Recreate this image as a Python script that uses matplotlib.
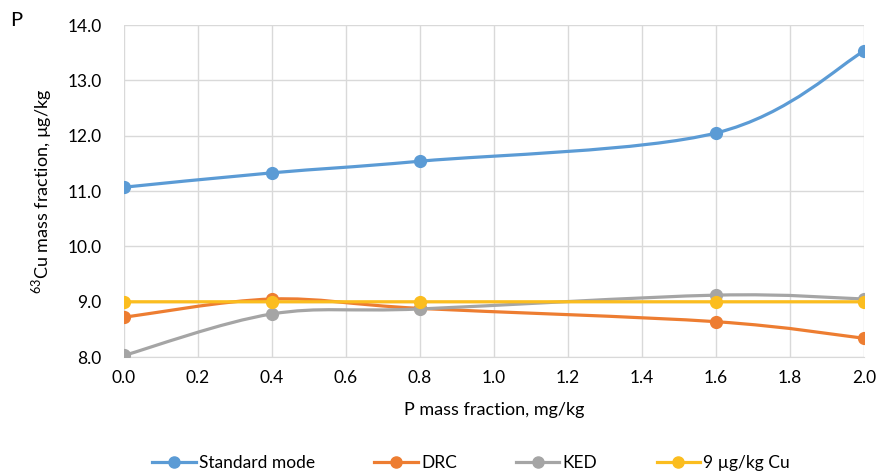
import matplotlib
matplotlib.use("Agg")
import matplotlib.pyplot as plt
from matplotlib.path import Path
from matplotlib.patches import PathPatch
from matplotlib.lines import Line2D
import numpy as np

plt.rcParams['font.family'] = ['Lato', 'DejaVu Sans']
plt.rcParams['mathtext.fontset'] = 'custom'
plt.rcParams['mathtext.rm'] = 'Lato'

x_vals = [0.0, 0.4, 0.8, 1.6, 2.0]
standard = [11.07, 11.33, 11.54, 12.05, 13.53]
drc = [8.72, 9.05, 8.88, 8.64, 8.34]
ked = [8.03, 8.78, 8.87, 9.12, 9.05]
ref9 = [9.0, 9.0, 9.0, 9.0, 9.0]
labels = ["Standard mode", "DRC", "KED", "9 µg/kg Cu"]
colors = ["#5b9bd5", "#ed7d31", "#a5a5a5", "#fbbd1f"]
x_ticks = [0.0, 0.2, 0.4, 0.6, 0.8, 1.0, 1.2, 1.4, 1.6, 1.8, 2.0]
y_ticks = [8.0, 9.0, 10.0, 11.0, 12.0, 13.0, 14.0]


def smooth_path(xs, ys):
    pts = np.column_stack([xs, ys])
    n = len(pts)
    verts = [pts[0]]
    codes = [Path.MOVETO]
    for i in range(n - 1):
        p0 = pts[i - 1] if i > 0 else pts[i]
        p1 = pts[i]
        p2 = pts[i + 1]
        p3 = pts[i + 2] if i + 2 < n else pts[i + 1]
        c1 = p1 + (p2 - p0) / 6.0
        c2 = p2 - (p3 - p1) / 6.0
        verts += [c1, c2, p2]
        codes += [Path.CURVE4] * 3
    return Path(verts, codes)


fig = plt.figure(figsize=(8.79, 4.73), dpi=100)
ax = fig.add_axes([0.141, 0.245, 0.842, 0.702])

series = [standard, drc, ked, ref9]
handles = []
for i, (ys, c, lab) in enumerate(zip(series, colors, labels)):
    patch = PathPatch(smooth_path(x_vals, ys), facecolor='none', edgecolor=c,
                      lw=2.3, zorder=3 + i, capstyle='round', joinstyle='round')
    ax.add_patch(patch)
    ax.plot(x_vals, ys, linestyle='none', marker='o', markersize=8.5,
            color=c, zorder=3 + i)
    handles.append(Line2D([], [], color=c, lw=2.3, marker='o', markersize=8))

ax.set_xlim(0.0, 2.0)
ax.set_ylim(8.0, 14.0)
ax.set_xticks(x_ticks)
ax.set_yticks(y_ticks)
ax.set_xticklabels([f"{v:.1f}" for v in x_ticks])
ax.set_yticklabels([f"{v:.1f}" for v in y_ticks])
ax.grid(True, color='#d9d9d9', lw=1)
ax.set_axisbelow(True)
for s in ['top', 'right', 'left']:
    ax.spines[s].set_visible(False)
ax.spines['bottom'].set_color('#d9d9d9')
ax.tick_params(axis='both', length=0, labelsize=12.5, colors='#000000', pad=9)
ax.tick_params(axis='y', pad=16)

ax.set_xlabel("P mass fraction, mg/kg", fontsize=13, labelpad=12)
ax.set_ylabel(r"$^{63}$Cu mass fraction, µg/kg", fontsize=13, labelpad=10)

fig.text(10 / 879, 1 - 20 / 473, "P", fontsize=14.5, ha='left', va='center')

fig.legend(handles, labels, loc='center', bbox_to_anchor=(0.536, 1 - 463 / 473),
           ncol=4, frameon=False, fontsize=12.5, handlelength=2.5,
           columnspacing=3.4, handletextpad=0.2)

fig.savefig("out.png", dpi=100)
